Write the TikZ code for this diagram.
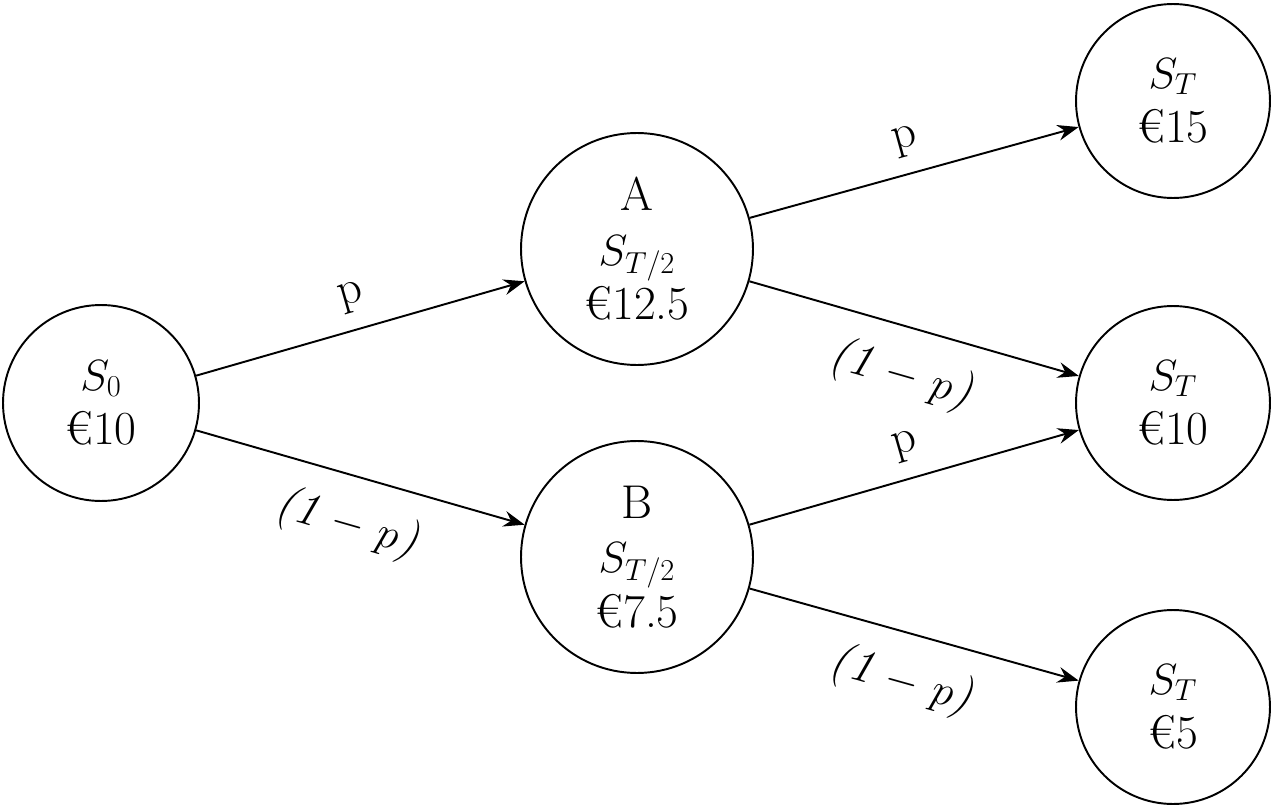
\documentclass[tikz,border=0pt]{standalone}
\usepackage{fontspec}
\usetikzlibrary{arrows.meta}
\begin{document}
\begin{tikzpicture}[x=0.02cm,y=-0.02cm,
  st/.style={circle,draw,line width=1.1pt,align=center,inner sep=0pt,font=\fontsize{27}{31}\selectfont},
  ed/.style={line width=1.1pt,-{Stealth[length=12pt,width=9pt,inset=4pt]}},
  lb/.style={font=\fontsize{27}{31}\selectfont,sloped}]
\useasboundingbox (0,0) rectangle (1276,808);
\node[st,minimum size=3.92cm] (s0) at (101,403) {$S_0$\\€10};
\node[st,minimum size=4.64cm] (a) at (637,249) {A\\$S_{T/2}$\\€12.5};
\node[st,minimum size=4.64cm] (b) at (637,557) {B\\$S_{T/2}$\\€7.5};
\node[st,minimum size=3.88cm] (u) at (1173,101) {$S_T$\\€15};
\node[st,minimum size=3.88cm] (m) at (1173,403) {$S_T$\\€10};
\node[st,minimum size=3.88cm] (d) at (1173,707) {$S_T$\\€5};
\draw[ed] (s0) -- node[lb,above=6pt]{p} (a);
\draw[ed] (s0) -- node[lb,below=10pt]{\textit{(1} $-$ $p$\textit{)}} (b);
\draw[ed] (a) -- node[lb,above=6pt]{p} (u);
\draw[ed] (a) -- node[lb,below=10pt]{\textit{(1} $-$ $p$\textit{)}} (m);
\draw[ed] (b) -- node[lb,above=6pt]{p} (m);
\draw[ed] (b) -- node[lb,below=10pt]{\textit{(1} $-$ $p$\textit{)}} (d);
\end{tikzpicture}
\end{document}
